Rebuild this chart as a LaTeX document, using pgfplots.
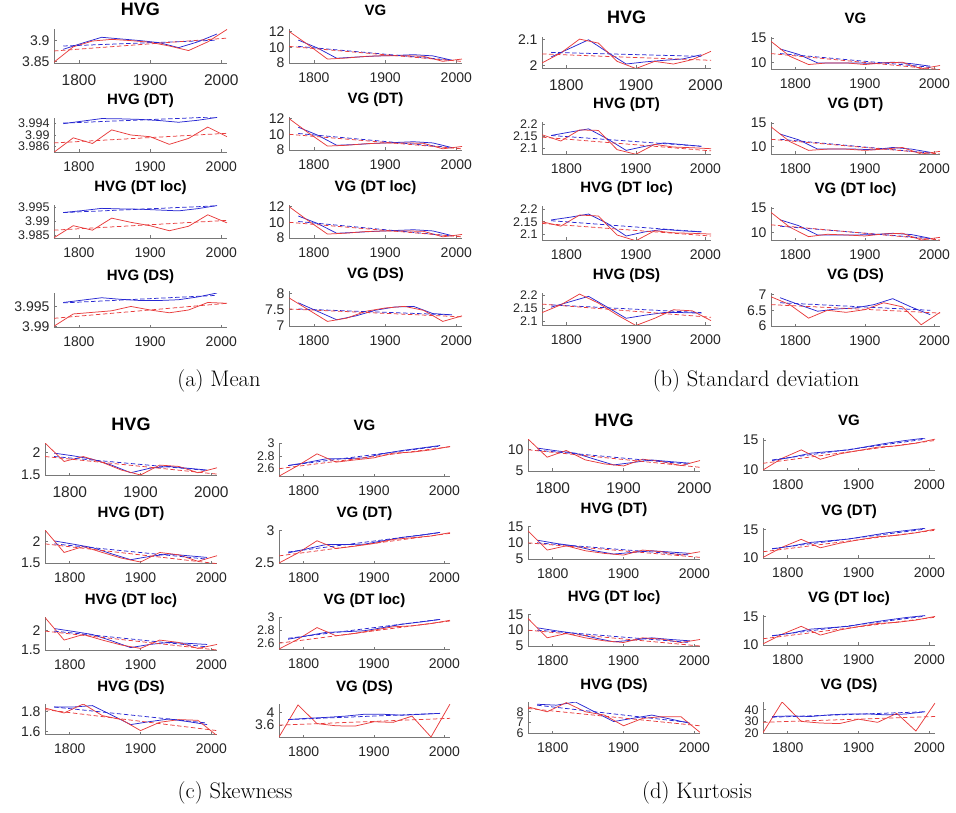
\documentclass[border=0pt]{standalone}
\usepackage{fontspec}
\usepackage{pgfplots}
\usepackage{pgfplotstable}
\pgfplotsset{compat=1.18}
\newfontfamily\arial{Liberation Sans}
\definecolor{mblue}{RGB}{40,40,210}
\definecolor{mred}{RGB}{232,60,60}
\definecolor{axgray}{RGB}{120,120,120}
\definecolor{txt}{RGB}{38,38,38}

\pgfplotstableread{
name k0 k1 k2 k3 k4 k5 k6 k7 k8 k9
x 1765 1792 1819 1846 1873 1900 1927 1954 1981 2008
a1 3.848 3.885 3.899 3.903 3.900 3.896 3.887 3.876 3.897 3.927
a2 3.9839 3.9890 3.9870 3.9918 3.9900 3.9894 3.9867 3.9888 3.9928 3.9894
a3 3.9841 3.9884 3.9868 3.9911 3.9896 3.9884 3.9866 3.9882 3.9923 3.9894
a4 3.9900 3.9931 3.9935 3.9939 3.9950 3.9941 3.9934 3.9941 3.9960 3.9958
a5 12.0 10.3 8.5 8.63 8.84 8.93 8.93 8.84 8.21 8.5
a6 12.0 10.2 8.5 8.6 8.8 8.9 8.9 8.85 8.15 8.45
a7 12.0 10.2 8.5 8.62 8.82 8.9 8.9 8.85 8.15 8.45
a8 7.86 7.5 7.14 7.24 7.45 7.55 7.6 7.48 7.14 7.31
b1 2.01 2.0475 2.10 2.085 2.016 1.989 2.016 2.006 2.0225 2.054
b2 2.157 2.131 2.177 2.175 2.095 2.076 2.117 2.106 2.103 2.099
b3 2.15 2.132 2.177 2.173 2.096 2.073 2.1135 2.105 2.103 2.1
b4 2.134 2.164 2.206 2.171 2.125 2.084 2.112 2.145 2.141 2.103
b5 14.3 11.23 9.52 9.86 9.86 9.52 9.86 10.0 8.63 9.32
b6 14.17 11.04 9.17 9.44 9.44 9.17 9.44 9.79 8.40 8.96
b7 14.1 11.1 9.18 9.66 9.52 9.32 9.73 9.86 8.5 9.04
b8 6.93 6.68 6.25 6.5 6.435 6.52 6.74 6.61 6.04 6.435
c1 2.21 1.8 1.91 1.78 1.61 1.5 1.72 1.69 1.55 1.66
c2 2.27 1.746 1.885 1.746 1.615 1.523 1.746 1.69 1.54 1.67
c3 2.317 1.75 1.89 1.75 1.625 1.54 1.75 1.69 1.54 1.64
c4 1.833 1.783 1.873 1.757 1.717 1.607 1.69 1.717 1.71 1.557
c5 2.48 2.65 2.837 2.704 2.74 2.773 2.848 2.864 2.90 2.955
c6 2.5 2.656 2.844 2.724 2.76 2.802 2.865 2.89 2.917 2.969
c7 2.50 2.655 2.84 2.71 2.748 2.8 2.852 2.868 2.904 2.956
c8 3.22 4.25 3.65 3.58 3.57 3.71 3.69 3.89 3.22 4.28
d1 12.54 8.25 9.84 7.62 6.67 6.19 7.78 7.22 6.27 7.46
d2 13.67 7.76 9.08 7.55 6.73 6.22 7.76 7.24 6.22 7.24
d3 13.68 7.58 8.95 7.58 6.63 6.1 7.58 7.16 6.1 7.05
d4 8.46 8 8.86 8 7.69 6.68 7.38 7.54 7.54 6.06
d5 10 11.94 13.33 11.78 12.67 13.22 13.78 14.0 14.44 15.11
d6 10.1 11.9 13.3 11.8 12.6 13.2 13.75 14.0 14.45 15.1
d7 10.2 11.9 13.3 11.75 12.65 13.25 13.8 14.0 14.4 15.05
d8 20.3 46.7 30 28.6 28.1 31.9 29.2 36.9 21.7 45.8
}\redraw

\pgfplotstableread{
name k0 k1 k2 k3 k4 k5 k6 k7 k8
x 1778 1805 1832 1859 1886 1913 1940 1967 1994
a1 3.879 3.894 3.908 3.904 3.900 3.895 3.883 3.897 3.916
a2 3.9940 3.9949 3.9958 3.9957 3.9955 3.9951 3.9945 3.9952 3.9962
a3 3.9931 3.9938 3.9946 3.9944 3.9943 3.9940 3.9937 3.9945 3.9956
a4 3.9960 3.9966 3.9972 3.9968 3.9965 3.9965 3.9967 3.9974 3.9984
a5 10.9 9.9 8.6 8.75 8.88 8.95 9.05 8.9 8.35
a6 10.9 9.9 8.6 8.7 8.85 8.95 9.05 8.9 8.3
a7 10.8 9.85 8.6 8.72 8.85 8.95 9.05 8.9 8.3
a8 7.71 7.45 7.19 7.31 7.48 7.58 7.6 7.38 7.34
b1 2.0325 2.065 2.0975 2.051 2.006 2.014 2.02 2.025 2.041
b2 2.154 2.168 2.1815 2.14 2.092 2.109 2.123 2.116 2.109
b3 2.157 2.168 2.181 2.143 2.092 2.109 2.119 2.113 2.109
b4 2.155 2.176 2.197 2.155 2.112 2.124 2.134 2.134 2.132
b5 12.74 11.6 9.86 9.86 9.86 9.75 10.0 9.7 9.18
b6 12.64 11.4 9.44 9.44 9.44 9.3 9.79 9.44 8.75
b7 12.6 11.4 9.52 9.52 9.52 9.6 9.86 9.6 8.84
b8 6.9 6.68 6.47 6.54 6.575 6.68 6.87 6.6 6.36
c1 1.985 1.925 1.85 1.72 1.55 1.65 1.69 1.65 1.61
c2 2.015 1.94 1.86 1.715 1.577 1.654 1.71 1.67 1.63
c3 2.04 1.967 1.89 1.733 1.56 1.64 1.69 1.667 1.64
c4 1.843 1.843 1.857 1.763 1.667 1.697 1.723 1.697 1.667
c5 2.65 2.70 2.757 2.76 2.773 2.84 2.89 2.93 2.97
c6 2.656 2.72 2.786 2.786 2.79 2.844 2.896 2.93 2.974
c7 2.655 2.71 2.764 2.774 2.79 2.84 2.894 2.93 2.97
c8 3.78 3.82 3.85 3.89 3.95 3.95 3.92 3.95 3.98
d1 10.4 9.76 9.2 7.78 6.43 7.0 7.6 7.2 6.83
d2 10.82 9.8 8.98 7.55 6.53 7.04 7.55 7.14 6.73
d3 10.74 9.8 8.95 7.58 6.32 6.84 7.58 7.05 6.63
d4 8.71 8.62 8.92 8.0 7.08 7.38 7.69 7.3 6.92
d5 11.56 12.1 12.78 13.06 13.33 13.9 14.44 14.9 15.28
d6 11.6 12.1 12.75 13.05 13.35 13.9 14.45 14.85 15.25
d7 11.6 12.1 12.8 13.05 13.3 13.9 14.4 14.85 15.2
d8 34.2 34.7 34.2 35.6 36.4 36.4 35.6 36.4 38.3
}\blueraw

\pgfplotstableread{
name k0 k1
x 1765 2008
a1 3.875 3.906
a2 3.9872 3.9906
a3 3.9868 3.9903
a4 3.9920 3.9958
a5 10.1 8.2
a6 10.0 8.15
a7 10.0 8.15
a8 7.52 7.28
b1 2.044 2.02
b2 2.147 2.09
b3 2.143 2.092
b4 2.167 2.116
b5 11.78 8.49
b6 11.53 8.4
b7 11.58 8.5
b8 6.68 6.41
c1 1.91 1.52
c2 1.946 1.485
c3 1.975 1.5
c4 1.817 1.607
c5 2.6 2.95
c6 2.61 2.958
c7 2.592 2.945
c8 3.6 3.82
d1 10 5.87
d2 10 5.51
d3 10 5.0
d4 8.31 6.68
d5 11.11 14.89
d6 11.1 14.9
d7 11.1 14.9
d8 29.2 34.2
}\redfitraw

\pgfplotstableread{
name k0 k1
x 1778 1994
a1 3.887 3.901
a2 3.9942 3.9964
a3 3.9931 3.9955
a4 3.9959 3.9978
a5 10.1 8.35
a6 10.1 8.3
a7 10.1 8.25
a8 7.52 7.34
b1 2.05 2.035
b2 2.154 2.109
b3 2.154 2.109
b4 2.164 2.134
b5 11.78 8.97
b6 11.53 8.6
b7 11.3 8.8
b8 6.74 6.5
c1 1.91 1.6
c2 1.946 1.59
c3 1.975 1.58
c4 1.843 1.683
c5 2.65 2.96
c6 2.67 2.97
c7 2.67 2.97
c8 3.78 3.98
d1 9.9 6.6
d2 10 6.22
d3 10 6.1
d4 8.62 6.98
d5 11.67 15.11
d6 11.65 15.1
d7 11.65 15.1
d8 33.6 38.3
}\bluefitraw

\pgfplotstabletranspose[colnames from=name]{\redT}{\redraw}
\pgfplotstabletranspose[colnames from=name]{\blueT}{\blueraw}
\pgfplotstabletranspose[colnames from=name]{\redF}{\redfitraw}
\pgfplotstabletranspose[colnames from=name]{\blueF}{\bluefitraw}

\pgfplotsset{
  sp/.style={scale only axis, anchor=north west,
    xmin=1765, xmax=2008, xtick={1800,1900,2000},
    axis x line*=bottom, axis y line*=left,
    axis line style={-, axgray, line width=0.7pt},
    tick style={axgray, line width=0.6pt},
    tick align=inside, major tick length=2.5pt,
    ticklabel style={font=\arial\fontsize{14}{14}\selectfont, text=txt},
    xticklabel style={yshift=-6pt},
    yticklabel style={xshift=-1pt, inner ysep=0pt},
    /pgf/number format/fixed, /pgf/number format/precision=4,
    /pgf/number format/1000 sep={}, /pgf/number format/assume math mode=true,
    title style={at={(0.5,1)}, anchor=base, yshift=7pt,
      font=\arial\bfseries\fontsize{15}{15}\selectfont, text=black},
  },
  r1/.style={title style={font=\arial\bfseries\fontsize{18}{18}\selectfont},
    xticklabel style={font=\arial\fontsize{15.5}{15.5}\selectfont, yshift=-2.5pt}},
  crowd/.style={yticklabel style={font=\arial\fontsize{12.5}{12.5}\selectfont}},
  rl/.style={mred, line width=0.75pt},
  bl/.style={mblue, line width=0.75pt},
  rd/.style={mred, line width=0.75pt, dash pattern=on 4.5pt off 2.5pt},
  bd/.style={mblue, line width=0.75pt, dash pattern=on 4.5pt off 2.5pt},
}

\newcommand\sub[7]{%
\begin{axis}[sp, at={(#1pt,-#2pt)}, width=#3pt, height=#4pt, title={#5}, #7]
\addplot[bl] table[x=x,y=#6]{\blueT};
\addplot[rl] table[x=x,y=#6]{\redT};
\addplot[bd] table[x=x,y=#6]{\blueF};
\addplot[rd] table[x=x,y=#6]{\redF};
\end{axis}}

\begin{document}
\begin{tikzpicture}
\path[use as bounding box] (0pt,0pt) rectangle (956pt,-813pt);
% (a) Mean
\sub{54}{29}{173}{34}{HVG}{a1}{r1, ymin=3.846, ymax=3.928, ytick={3.85,3.9}}
\sub{54}{118}{173}{34}{HVG (DT)}{a2}{crowd, ymin=3.984, ymax=3.996, ytick={3.986,3.99,3.994}}
\sub{54}{205}{173}{33}{HVG (DT loc)}{a3}{crowd, ymin=3.984, ymax=3.9958, ytick={3.985,3.99,3.995}}
\sub{54}{293}{173}{34}{HVG (DS)}{a4}{ymin=3.9898, ymax=3.9984, ytick={3.99,3.995}}
\sub{289}{29}{173}{34}{VG}{a5}{ymin=8, ymax=12.3, ytick={8,10,12}}
\sub{289}{117}{173}{33}{VG (DT)}{a6}{ymin=8, ymax=12.2, ytick={8,10,12}}
\sub{289}{205}{173}{33}{VG (DT loc)}{a7}{ymin=8, ymax=12.2, ytick={8,10,12}}
\sub{289}{291}{173}{35}{VG (DS)}{a8}{ymin=7, ymax=8.07, ytick={7,7.5,8}}
% (b) Standard deviation
\sub{542}{37}{169}{31}{HVG}{b1}{r1, ymin=1.991, ymax=2.108, ytick={2,2.1}}
\sub{542}{122}{169}{32}{HVG (DT)}{b2}{crowd, ymin=2.077, ymax=2.21, ytick={2.1,2.15,2.2}}
\sub{542}{206}{169}{34}{HVG (DT loc)}{b3}{crowd, ymin=2.076, ymax=2.2135, ytick={2.1,2.15,2.2}}
\sub{542}{293}{169}{32}{HVG (DS)}{b4}{crowd, ymin=2.086, ymax=2.21, ytick={2.1,2.15,2.2}}
\sub{771}{37}{169}{32}{VG}{b5}{ymin=8.6, ymax=15.2, ytick={10,15}}
\sub{771}{122}{169}{32}{VG (DT)}{b6}{ymin=8.4, ymax=15.2, ytick={10,15}}
\sub{771}{207}{169}{33}{VG (DT loc)}{b7}{ymin=8.5, ymax=15.2, ytick={10,15}}
\sub{771}{293}{169}{33}{VG (DS)}{b8}{ymin=6, ymax=7.05, ytick={6,6.5,7}}
% (c) Skewness
\sub{45}{443}{172}{32}{HVG}{c1}{r1, ymin=1.5, ymax=2.21, ytick={1.5,2}}
\sub{45}{530}{172}{33}{HVG (DT)}{c2}{ymin=1.5, ymax=2.27, ytick={1.5,2}}
\sub{45}{617}{172}{33}{HVG (DT loc)}{c3}{ymin=1.5, ymax=2.33, ytick={1.5,2}}
\sub{45}{704}{172}{30}{HVG (DS)}{c4}{ymin=1.573, ymax=1.873, ytick={1.6,1.8}}
\sub{279}{443}{171}{33}{VG}{c5}{crowd, ymin=2.483, ymax=3.01, ytick={2.6,2.8,3}}
\sub{279}{530}{171}{33}{VG (DT)}{c6}{ymin=2.5, ymax=3.01, ytick={2.5,3}}
\sub{279}{617}{171}{32}{VG (DT loc)}{c7}{crowd, ymin=2.5, ymax=3.008, ytick={2.6,2.8,3}}
\sub{279}{704}{171}{33}{VG (DS)}{c8}{ymin=3.22, ymax=4.28, ytick={3.6,4}}
% (d) Kurtosis
\sub{528}{439}{172}{32}{HVG}{d1}{r1, ymin=5, ymax=12.54, ytick={5,10}}
\sub{528}{526}{172}{33}{HVG (DT)}{d2}{ymin=5, ymax=15.2, ytick={5,10,15}}
\sub{528}{614}{172}{32}{HVG (DT loc)}{d3}{ymin=5, ymax=15.1, ytick={5,10,15}}
\sub{528}{702}{172}{31}{HVG (DS)}{d4}{crowd, ymin=6, ymax=8.92, ytick={6,7,8}}
\sub{763}{438}{172}{32}{VG}{d5}{ymin=10, ymax=15.3, ytick={10,15}}
\sub{763}{528}{172}{30}{VG (DT)}{d6}{ymin=10, ymax=15.3, ytick={10,15}}
\sub{763}{615}{172}{30}{VG (DT loc)}{d7}{ymin=10, ymax=15.3, ytick={10,15}}
\sub{763}{702}{172}{31}{VG (DS)}{d8}{crowd, ymin=20, ymax=46.7, ytick={20,30,40}}
% captions
\node[font=\fontsize{22.5}{26}\selectfont] at (219pt,-381pt) {(a) Mean};
\node[font=\fontsize{22.5}{26}\selectfont] at (756pt,-381pt) {(b) Standard deviation};
\node[font=\fontsize{22.5}{26}\selectfont] at (235pt,-793pt) {(c) Skewness};
\node[font=\fontsize{22.5}{26}\selectfont] at (697pt,-793pt) {(d) Kurtosis};
\end{tikzpicture}
\end{document}
